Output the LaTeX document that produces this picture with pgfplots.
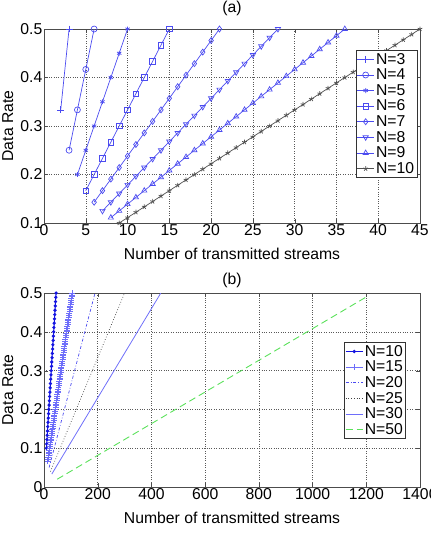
\documentclass[border=0pt]{standalone}
\usepackage{fontspec}
\setmainfont{Liberation Sans}
\usepackage{pgfplots}
\pgfplotsset{compat=1.18}
\definecolor{mblue}{RGB}{75,75,240}
\definecolor{mgray}{RGB}{80,80,80}
\definecolor{dblue}{RGB}{20,20,225}
\definecolor{lblue}{RGB}{110,110,250}
\definecolor{mgreen}{RGB}{90,225,90}
\newcommand{\fs}{\fontsize{15.8}{18}\selectfont}
\pgfplotsset{
  mstyle/.style={
    scale only axis, width=376bp, height=194bp,
    axis line style={black!70},
    tick align=inside, major tick length=4bp,
    tick style={black!70},
    grid=major, grid style={dotted, black!65, line width=0.5pt},
    /pgf/number format/assume math mode=true,
    tick label style={font=\fs},
    label style={font=\fs},
    title style={font=\fs, at={(axis description cs:0.5,1)}, anchor=south, yshift=4bp},
    xticklabel style={inner ysep=1.5bp},
    yticklabel style={inner xsep=1.5bp},
    xlabel style={at={(axis description cs:0.5,-0.16)}, anchor=center},
    ylabel style={at={(axis description cs:-0.096,0.5)}, anchor=center},
    legend cell align=left,
    legend style={font=\fs, draw=black!80, fill=white, inner sep=1bp, nodes={inner sep=1.6bp}},
  }
}
\begin{document}
\begin{tikzpicture}
\path[use as bounding box] (0,0) rectangle (431bp,-533bp);
% ---------------- (a)
\begin{axis}[mstyle,
  at={(44bp,-223bp)}, anchor=south west,
  xmin=0, xmax=45, ymin=0.1, ymax=0.5,
  xtick={0,5,...,45},
  ytick={0.1,0.2,0.3,0.4,0.5},
  yticklabels={0.1,0.2,0.3,0.4,0.5},
  title={(a)},
  xlabel={Number of transmitted streams},
  ylabel={Data Rate},
  legend style={at={(axis description cs:0.992,0.89)}, anchor=north east},
]
\addplot[mblue, line width=0.7pt, mark=+, mark size=3.5pt] coordinates {(2,0.3333) (3,0.5)};
\addlegendentry{N=3}
\addplot[mblue, line width=0.7pt, mark=o, mark size=3pt] coordinates {(3,0.25) (4,0.3333) (5,0.4167) (6,0.5)};
\addlegendentry{N=4}
\addplot[mblue, line width=0.7pt, mark=asterisk, mark size=2.5pt] coordinates {(4,0.2) (5,0.25) (6,0.3) (7,0.35) (8,0.4) (9,0.45) (10,0.5)};
\addlegendentry{N=5}
\addplot[mblue, line width=0.7pt, mark=square, mark size=2.8pt] coordinates {(5,0.1667) (6,0.2) (7,0.2333) (8,0.2667) (9,0.3) (10,0.3333) (11,0.3667) (12,0.4) (13,0.4333) (14,0.4667) (15,0.5)};
\addlegendentry{N=6}
\addplot[mblue, line width=0.7pt, mark=diamond, mark size=3pt] coordinates {(6,0.1429) (7,0.1667) (8,0.1905) (9,0.2143) (10,0.2381) (11,0.2619) (12,0.2857) (13,0.3095) (14,0.3333) (15,0.3571) (16,0.3810) (17,0.4048) (18,0.4286) (19,0.4524) (20,0.4762) (21,0.5)};
\addlegendentry{N=7}
\addplot[mblue, line width=0.7pt, mark=triangle, mark size=3pt, mark options={rotate=180}] coordinates {(7,0.125) (8,0.1429) (9,0.1607) (10,0.1786) (11,0.1964) (12,0.2143) (13,0.2321) (14,0.25) (15,0.2679) (16,0.2857) (17,0.3036) (18,0.3214) (19,0.3393) (20,0.3571) (21,0.375) (22,0.3929) (23,0.4107) (24,0.4286) (25,0.4464) (26,0.4643) (27,0.4821) (28,0.5)};
\addlegendentry{N=8}
\addplot[mblue, line width=0.7pt, mark=triangle, mark size=3pt] coordinates {(8,0.1111) (9,0.125) (10,0.1389) (11,0.1528) (12,0.1667) (13,0.1806) (14,0.1944) (15,0.2083) (16,0.2222) (17,0.2361) (18,0.25) (19,0.2639) (20,0.2778) (21,0.2917) (22,0.3056) (23,0.3194) (24,0.3333) (25,0.3472) (26,0.3611) (27,0.375) (28,0.3889) (29,0.4028) (30,0.4167) (31,0.4306) (32,0.4444) (33,0.4583) (34,0.4722) (35,0.4861) (36,0.5)};
\addlegendentry{N=9}
\addplot[mgray, line width=0.7pt, mark=star, mark size=2.5pt] coordinates {(9,0.1) (10,0.1111) (11,0.1222) (12,0.1333) (13,0.1444) (14,0.1556) (15,0.1667) (16,0.1778) (17,0.1889) (18,0.2) (19,0.2111) (20,0.2222) (21,0.2333) (22,0.2444) (23,0.2556) (24,0.2667) (25,0.2778) (26,0.2889) (27,0.3) (28,0.3111) (29,0.3222) (30,0.3333) (31,0.3444) (32,0.3556) (33,0.3667) (34,0.3778) (35,0.3889) (36,0.4) (37,0.4111) (38,0.4222) (39,0.4333) (40,0.4444) (41,0.4556) (42,0.4667) (43,0.4778) (44,0.4889) (45,0.5)};
\addlegendentry{N=10}
\end{axis}
% ---------------- (b)
\begin{axis}[mstyle,
  at={(44bp,-487bp)}, anchor=south west,
  xmin=0, xmax=1400, ymin=0, ymax=0.5,
  xtick={0,200,...,1400},
  ytick={0,0.1,0.2,0.3,0.4,0.5},
  yticklabels={0,0.1,0.2,0.3,0.4,0.5},
  xticklabels={0,200,400,600,800,1000,1200,1400},
  title={(b)},
  title style={yshift=-8bp},
  xlabel={Number of transmitted streams},
  ylabel={Data Rate},
  legend style={at={(axis description cs:0.962,0.745)}, anchor=north east},
]
\addplot[dblue, line width=1pt, mark=*, mark size=1.1pt] coordinates {(9,0.1) (10,0.1111) (11,0.1222) (12,0.1333) (13,0.1444) (14,0.1556) (15,0.1667) (16,0.1778) (17,0.1889) (18,0.2) (19,0.2111) (20,0.2222) (21,0.2333) (22,0.2444) (23,0.2556) (24,0.2667) (25,0.2778) (26,0.2889) (27,0.3) (28,0.3111) (29,0.3222) (30,0.3333) (31,0.3444) (32,0.3556) (33,0.3667) (34,0.3778) (35,0.3889) (36,0.4) (37,0.4111) (38,0.4222) (39,0.4333) (40,0.4444) (41,0.4556) (42,0.4667) (43,0.4778) (44,0.4889) (45,0.5)};
\addlegendentry{N=10}
\addplot[lblue, line width=0.7pt, mark=+, mark size=3pt] coordinates {(14,0.0667) (15,0.0714) (16,0.0762) (17,0.0810) (18,0.0857) (19,0.0905) (20,0.0952) (21,0.1) (22,0.1048) (23,0.1095) (24,0.1143) (25,0.1190) (26,0.1238) (27,0.1286) (28,0.1333) (29,0.1381) (30,0.1429) (31,0.1476) (32,0.1524) (33,0.1571) (34,0.1619) (35,0.1667) (36,0.1714) (37,0.1762) (38,0.1810) (39,0.1857) (40,0.1905) (41,0.1952) (42,0.2) (43,0.2048) (44,0.2095) (45,0.2143) (46,0.2190) (47,0.2238) (48,0.2286) (49,0.2333) (50,0.2381) (51,0.2429) (52,0.2476) (53,0.2524) (54,0.2571) (55,0.2619) (56,0.2667) (57,0.2714) (58,0.2762) (59,0.2810) (60,0.2857) (61,0.2905) (62,0.2952) (63,0.3) (64,0.3048) (65,0.3095) (66,0.3143) (67,0.3190) (68,0.3238) (69,0.3286) (70,0.3333) (71,0.3381) (72,0.3429) (73,0.3476) (74,0.3524) (75,0.3571) (76,0.3619) (77,0.3667) (78,0.3714) (79,0.3762) (80,0.3810) (81,0.3857) (82,0.3905) (83,0.3952) (84,0.4) (85,0.4048) (86,0.4095) (87,0.4143) (88,0.4190) (89,0.4238) (90,0.4286) (91,0.4333) (92,0.4381) (93,0.4429) (94,0.4476) (95,0.4524) (96,0.4571) (97,0.4619) (98,0.4667) (99,0.4714) (100,0.4762) (101,0.4810) (102,0.4857) (103,0.4905) (104,0.4952) (105,0.5)};
\addlegendentry{N=15}
\addplot[mblue, line width=0.7pt, dash dot] coordinates {(19,0.05) (190,0.5)};
\addlegendentry{N=20}
\addplot[black!75, line width=0.7pt, dotted] coordinates {(24,0.04) (300,0.5)};
\addlegendentry{N=25}
\addplot[lblue, line width=0.8pt] coordinates {(29,0.0333) (435,0.5)};
\addlegendentry{N=30}
\addplot[mgreen, line width=0.9pt, dashed, dash pattern=on 7pt off 4pt] coordinates {(49,0.02) (1200,0.4898)};
\addlegendentry{N=50}
\end{axis}
\end{tikzpicture}
\end{document}
